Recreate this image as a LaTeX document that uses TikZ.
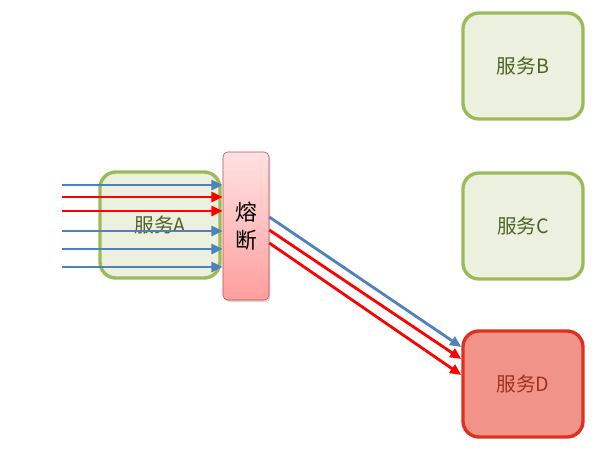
\documentclass[tikz,border=0pt]{standalone}
\usepackage{fontspec}
\setmainfont{Noto Sans CJK SC}
\usetikzlibrary{arrows.meta, positioning, calc, shadows}
\definecolor{okline}{RGB}{155, 187, 89}
\definecolor{okfill}{RGB}{235, 241, 222}
\definecolor{oktext}{RGB}{79, 98, 40}
\definecolor{downline}{RGB}{224, 48, 30}
\definecolor{downfill}{RGB}{242, 147, 138}
\definecolor{downtext}{RGB}{160, 50, 30}
\definecolor{fuseline}{RGB}{192, 80, 77}
\definecolor{fusetop}{RGB}{255, 226, 226}
\definecolor{fusebot}{RGB}{255, 158, 158}
\definecolor{callblue}{RGB}{79, 129, 189}
\definecolor{callred}{RGB}{255, 0, 0}

\begin{document}
\begin{tikzpicture}[x=0.025cm, y=-0.025cm,
    service/.style={rectangle, rounded corners=0.4cm, draw=okline, fill=okfill,
                    line width=2.4pt, minimum width=3.0cm, minimum height=2.65cm,
                    text=oktext, font=\fontsize{14}{16}\selectfont},
    failed/.style={service, draw=downline, fill=downfill, text=downtext},
    fuse/.style={rectangle, rounded corners=0.12cm, draw=fuseline, thin,
                 top color=fusetop, bottom color=fusebot,
                 drop shadow={opacity=0.3, shadow xshift=1pt, shadow yshift=-1.5pt},
                 minimum width=1.15cm, minimum height=3.7cm, align=center,
                 font=\fontsize{15.5}{20}\selectfont},
    call/.style={-{Triangle[length=8pt, width=7pt]}, line width=2pt, draw=#1}
]
\useasboundingbox (0,0) rectangle (600,455);

% Services
\node[service] (svcA) at (160,225) {服务A};
\node[service] (svcB) at (523,66) {服务B};
\node[service] (svcC) at (523,226) {服务C};
\node[failed]  (svcD) at (523,384) {服务D};

% Breaker
\node[fuse] (breaker) at (246,226) {熔\\断};

% Incoming calls
\foreach \y/\c [count=\i] in {185/callblue, 197/callred, 211/callred,
                              231/callblue, 249/callblue, 267/callblue} {
    \coordinate (in\i) at (62,\y);
    \draw[call=\c] (in\i) -- (in\i -| breaker.west);
}

% Calls passed on to D
\foreach \s/\e/\c in {0.225/0.925/callblue, -0.1/0.625/callred, -0.425/0.225/callred}
    \draw[call=\c] ([yshift=\s cm]breaker.east) -- ([yshift=\e cm]svcD.west);

\end{tikzpicture}
\end{document}
